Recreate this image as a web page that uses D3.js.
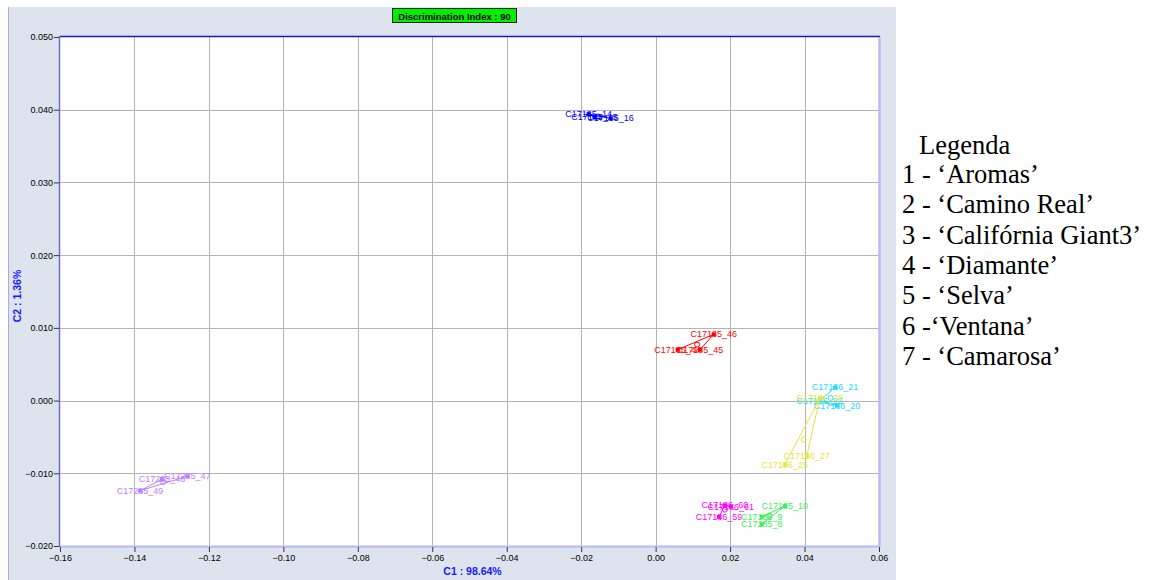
<!DOCTYPE html>
<html>
<head>
<meta charset="utf-8">
<script src="https://cdn.jsdelivr.net/npm/d3@7"></script>
<style>
  html, body { margin: 0; padding: 0; background: #ffffff; }
  svg { display: block; }
</style>
</head>
<body>
<svg id="chart" width="1153" height="580"></svg>
<script>
// Discriminant scores of each spectrum (C1, C2), grouped by class.
const sampleLabels = [
  "C17185_14", "C17185_15", "C17185_16",
  "C17185_46", "C17185_44", "C17185_45",
  "C17186_22", "C17186_21", "C17186_20",
  "C17186_28", "C17186_27", "C17186_25",
  "C17186_60", "C17186_61", "C17186_59",
  "C17185_10", "C17185_9", "C17185_8",
  "C17285_49", "C17285_47", "C17285_48"
];
const c1Values = [
  -0.0180, -0.0164, -0.0121,
   0.0156,  0.0059,  0.0119,
   0.0441,  0.0482,  0.0487,
   0.0441,  0.0406,  0.0347,
   0.0186,  0.0202,  0.0170,
   0.0347,  0.0285,  0.0285,
  -0.1385, -0.1258, -0.1326
];
const c2Values = [
   0.0394,  0.0390,  0.0388,
   0.0091,  0.0070,  0.0070,
   0.0000,  0.0018, -0.0007,
   0.0003, -0.0076, -0.0088,
  -0.0144, -0.0146, -0.0160,
  -0.0145, -0.0160, -0.0170,
  -0.0124, -0.0104, -0.0108
];
const sampleClass = [
  0, 0, 0,
  1, 1, 1,
  2, 2, 2,
  3, 3, 3,
  4, 4, 4,
  5, 5, 5,
  6, 6, 6
];
const classColors = ["#0000ff", "#ff0000", "#19dcff", "#e6e63c", "#ff00ff", "#3cee5a", "#bb80ff"];

const xTicks = [-0.16, -0.14, -0.12, -0.10, -0.08, -0.06, -0.04, -0.02, 0.00, 0.02, 0.04, 0.06];
const yTicks = [-0.020, -0.010, 0.000, 0.010, 0.020, 0.030, 0.040, 0.050];

const chartTitle = "Discrimination Index : 90";
const xTitle = "C1 : 98.64%";
const yTitle = "C2 : 1.36%";

const legendTitle = "Legenda";
const legendItems = [
  "1 - \u2018Aromas\u2019",
  "2 - \u2018Camino Real\u2019",
  "3 - \u2018Calif\u00f3rnia Giant3\u2019",
  "4 - \u2018Diamante\u2019",
  "5 - \u2018Selva\u2019",
  "6 -\u2018Ventana\u2019",
  "7 - \u2018Camarosa\u2019"
];

const svg = d3.select("#chart");
const plot = { left: 60, right: 879, top: 37, bottom: 546 };

const x = d3.scaleLinear().domain([-0.16, 0.06]).range([plot.left, plot.right]);
const y = d3.scaleLinear().domain([-0.020, 0.050]).range([plot.bottom, plot.top]);

// window panel
svg.append("rect")
  .attr("x", 8).attr("y", 7).attr("width", 888).attr("height", 580)
  .attr("fill", "#dde4ee");
svg.append("line")
  .attr("x1", 8.5).attr("x2", 8.5).attr("y1", 7).attr("y2", 580)
  .attr("stroke", "#a9a9ea").attr("stroke-width", 1);

// plot area
svg.append("rect")
  .attr("x", plot.left).attr("y", plot.top)
  .attr("width", plot.right - plot.left).attr("height", plot.bottom - plot.top)
  .attr("fill", "#ffffff");

// grid
const grid = svg.append("g");
grid.selectAll("line.gx").data(xTicks.slice(1, -1)).join("line")
  .attr("x1", d => Math.round(x(d)) + 0.5).attr("x2", d => Math.round(x(d)) + 0.5)
  .attr("y1", plot.top).attr("y2", plot.bottom)
  .attr("stroke", "#b4b4b4").attr("stroke-width", 1);
grid.selectAll("line.gy").data(yTicks.slice(1, -1)).join("line")
  .attr("x1", plot.left).attr("x2", plot.right)
  .attr("y1", d => Math.round(y(d)) + 0.5).attr("y2", d => Math.round(y(d)) + 0.5)
  .attr("stroke", "#b4b4b4").attr("stroke-width", 1);

// frame: dark top/left, light right/bottom
svg.append("line").attr("x1", plot.left).attr("x2", plot.right + 1)
  .attr("y1", plot.top - 0.5).attr("y2", plot.top - 0.5)
  .attr("stroke", "#1a1ab4").attr("stroke-width", 1.5);
svg.append("line").attr("x1", plot.left - 0.5).attr("x2", plot.left - 0.5)
  .attr("y1", plot.top - 1).attr("y2", plot.bottom + 1)
  .attr("stroke", "#6c6cd8").attr("stroke-width", 1.5);
svg.append("line").attr("x1", plot.right + 0.5).attr("x2", plot.right + 0.5)
  .attr("y1", plot.top).attr("y2", plot.bottom + 1)
  .attr("stroke", "#b8b8f8").attr("stroke-width", 2.5);
svg.append("line").attr("x1", plot.left).attr("x2", plot.right + 1)
  .attr("y1", plot.bottom + 0.5).attr("y2", plot.bottom + 0.5)
  .attr("stroke", "#b8b8f8").attr("stroke-width", 2);

// axes
const tickFmtY = d3.format(".3f");
const tickFmtX = d3.format(".2f");
const xAxis = svg.append("g")
  .attr("transform", `translate(0,${plot.bottom + 1})`)
  .call(d3.axisBottom(x).tickValues(xTicks).tickFormat(tickFmtX).tickSize(5).tickSizeOuter(0));
const yAxis = svg.append("g")
  .attr("transform", `translate(${plot.left - 1},0)`)
  .call(d3.axisLeft(y).tickValues(yTicks).tickFormat(tickFmtY).tickSize(5).tickSizeOuter(0));
[xAxis, yAxis].forEach(ax => {
  ax.select(".domain").remove();
  ax.selectAll(".tick line").attr("stroke", "#333333");
  ax.selectAll(".tick text")
    .attr("fill", "#000000")
    .style("font-family", "'Liberation Sans', Arial, sans-serif")
    .style("font-size", "9px");
});
xAxis.selectAll(".tick text").attr("dy", "0.9em").attr("y", 6);
yAxis.selectAll(".tick text").attr("x", -6);

// axis titles
svg.append("text")
  .attr("x", (plot.left + plot.right) / 2 + 3).attr("y", 575)
  .attr("text-anchor", "middle")
  .attr("fill", "#1818ff")
  .style("font-family", "'Liberation Sans', Arial, sans-serif")
  .style("font-size", "10.5px").style("font-weight", "bold")
  .text(xTitle);
svg.append("text")
  .attr("transform", "translate(21,296) rotate(-90)")
  .attr("text-anchor", "middle")
  .attr("fill", "#1818ff")
  .style("font-family", "'Liberation Sans', Arial, sans-serif")
  .style("font-size", "10.5px").style("font-weight", "bold")
  .text(yTitle);

// title badge
const titleG = svg.append("g");
titleG.append("text")
  .attr("x", 454.5).attr("y", 19.5)
  .attr("text-anchor", "middle")
  .attr("fill", "#000000")
  .style("font-family", "'Liberation Sans', Arial, sans-serif")
  .style("font-size", "9.5px").style("font-weight", "bold")
  .text(chartTitle);
titleG.insert("rect", "text")
  .attr("x", 392.5).attr("y", 8.5).attr("width", 124).attr("height", 14)
  .attr("fill", "#00f000").attr("stroke", "#222222").attr("stroke-width", 1);

// samples: star lines from each class's first sample, markers, labels, class centroid
const samples = sampleLabels.map((id, i) => ({
  id, c1: c1Values[i], c2: c2Values[i], cls: sampleClass[i]
}));
const byClass = d3.groups(samples, d => d.cls);

const marks = svg.append("g");
byClass.forEach(([cls, pts]) => {
  const color = classColors[cls];
  const hub = pts[0];
  marks.selectAll(null).data(pts.slice(1)).join("line")
    .attr("x1", x(hub.c1)).attr("y1", y(hub.c2))
    .attr("x2", d => x(d.c1)).attr("y2", d => y(d.c2))
    .attr("stroke", color).attr("stroke-width", 1);
  const cx = d3.mean(pts, d => d.c1);
  const cy = d3.mean(pts, d => d.c2);
  marks.append("circle")
    .attr("cx", x(cx)).attr("cy", y(cy)).attr("r", 2.5)
    .attr("fill", "none").attr("stroke", color).attr("stroke-width", 1);
  marks.selectAll(null).data(pts).join("rect")
    .attr("x", d => x(d.c1) - 2).attr("y", d => y(d.c2) - 2)
    .attr("width", 4).attr("height", 4)
    .attr("fill", color);
  marks.selectAll(null).data(pts).join("text")
    .attr("x", d => x(d.c1)).attr("y", d => y(d.c2) + 3)
    .attr("text-anchor", "middle")
    .attr("fill", color)
    .style("font-family", "'Liberation Sans', Arial, sans-serif")
    .style("font-size", "9px")
    .text(d => d.id);
});

// legend
const legend = svg.append("g")
  .style("font-family", "'Liberation Serif', 'Times New Roman', serif")
  .style("font-size", "26.5px")
  .attr("fill", "#000000");
legend.append("text").attr("x", 919).attr("y", 154).text(legendTitle);
legend.selectAll(null).data(legendItems).join("text")
  .attr("x", 902).attr("y", (d, i) => 183 + i * 30.3)
  .text(d => d);
</script>
</body>
</html>
